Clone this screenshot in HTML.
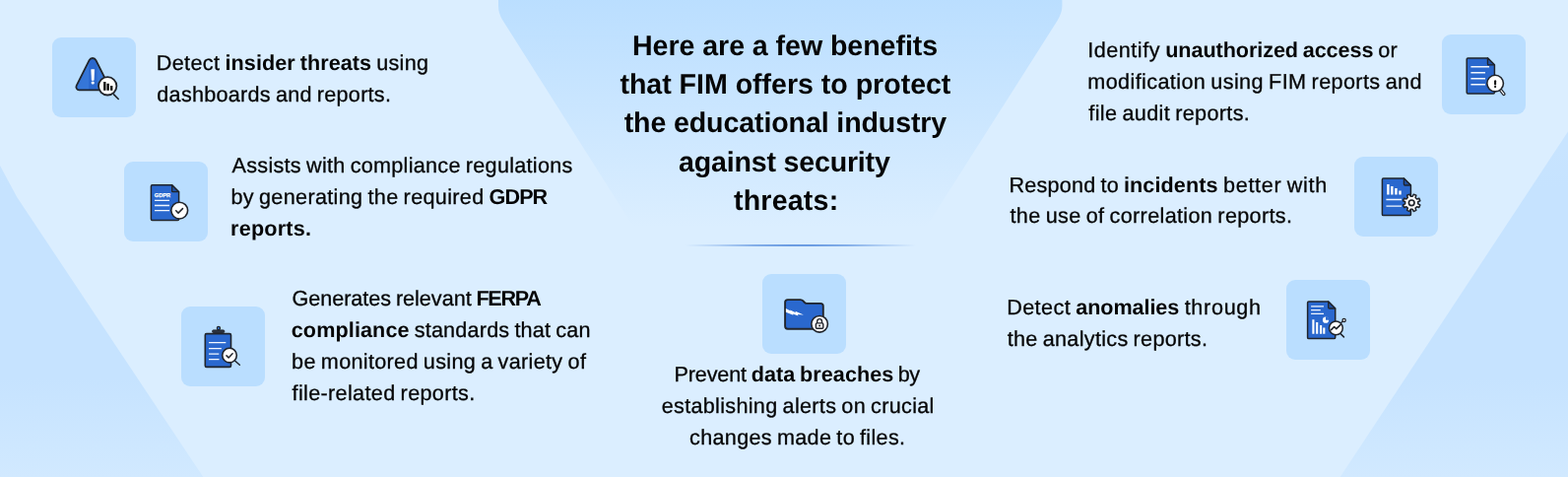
<!DOCTYPE html>
<html lang="en">
<head>
<meta charset="utf-8">
<title>FIM benefits for the educational industry</title>
<style>
*{box-sizing:border-box}
html,body{margin:0;padding:0}
body{width:1592px;height:484px;overflow:hidden;background:#dbeeff;font-family:"Liberation Sans",Arial,sans-serif;color:#050506}
.stage{position:relative;width:1592px;height:484px;overflow:hidden;background:#dbeeff}
.bg{position:absolute;left:0;top:0;width:1592px;height:484px;display:block}
.box{position:absolute;width:85px;height:81px;border-radius:9px;background:#badeff}
.ic{display:block;width:85px;height:81px}
.copy{position:absolute;left:0;top:0;width:1592px;height:484px;will-change:transform}
h2,p{margin:0;padding:0;font:inherit}
.ln{position:absolute;display:block;margin:0;white-space:nowrap;text-rendering:geometricPrecision;word-spacing:-1.2px;font-size:21.6px;line-height:24px;height:24px;font-weight:400;-webkit-text-stroke:0.3px #050506}
.ln b{font-weight:700;-webkit-text-stroke:0}
.t{word-spacing:0px;font-size:28.6px;line-height:32px;height:32px;font-weight:700;-webkit-text-stroke:0}
.rule{position:absolute;left:696px;top:248px;width:234px;height:2px;background:linear-gradient(90deg,rgba(98,150,224,0) 0%,rgba(98,150,224,.3) 14%,rgba(98,150,224,.72) 30%,rgba(98,150,224,.92) 45%,rgba(98,150,224,.92) 55%,rgba(98,150,224,.72) 70%,rgba(98,150,224,.3) 86%,rgba(98,150,224,0) 100%)}
</style>
</head>
<body>
<div class="stage">
<svg class="bg" viewBox="0 0 1592 484" width="1592" height="484" aria-hidden="true">
<defs>
<linearGradient id="fg" x1="0" y1="0" x2="0" y2="1" gradientUnits="objectBoundingBox">
<stop offset="0" stop-color="#badeff" stop-opacity="1"/>
<stop offset="0.5" stop-color="#badeff" stop-opacity="0"/>
</linearGradient>
<linearGradient id="tg" x1="0" y1="150" x2="0" y2="484" gradientUnits="userSpaceOnUse">
<stop offset="0" stop-color="#c8e4ff"/>
<stop offset="0.12" stop-color="#c6e3ff"/>
<stop offset="0.7" stop-color="#c6e3ff"/>
<stop offset="1" stop-color="#d1e9ff"/>
</linearGradient>
</defs>
<path d="M0 168 L17.2 200 L206.3 484 L0 484 Z" fill="url(#tg)"/>
<path d="M1592 133.5 L1360.7 484 L1592 484 Z" fill="url(#tg)"/>
<path d="M506 -4 L506 6 Q506 14 511 21.5 L791.5 464.5 L1073.5 21 Q1078.4 13 1078.4 6 L1078.4 -4 Z" fill="url(#fg)"/>
</svg>
<div class="box" style="left:53px;top:38px"><svg class="ic" viewBox="53 38 85 81" width="85" height="81" aria-hidden="true">
<defs><clipPath id="c1"><path d="M90.60 61.10 A3.8 3.8 0 0 1 97.40 61.10 L110.33 86.96 A3 3 0 0 1 107.65 91.30 L80.35 91.30 A3 3 0 0 1 77.67 86.96 Z"/></clipPath></defs>
<path d="M90.60 61.10 A3.8 3.8 0 0 1 97.40 61.10 L110.33 86.96 A3 3 0 0 1 107.65 91.30 L80.35 91.30 A3 3 0 0 1 77.67 86.96 Z" fill="#3576d8"/>
<rect x="90.2" y="54" width="8.2" height="40" fill="#2a68ce" clip-path="url(#c1)"/>
<path d="M90.60 61.10 A3.8 3.8 0 0 1 97.40 61.10 L110.33 86.96 A3 3 0 0 1 107.65 91.30 L80.35 91.30 A3 3 0 0 1 77.67 86.96 Z" fill="none" stroke="#20242b" stroke-width="1.8" stroke-linejoin="round"/>
<path d="M92.7 70.6 H95.7 L95.2 81.4 H93.2 Z" fill="#fff" stroke="#fff" stroke-width=".6" stroke-linejoin="round"/>
<circle cx="94.2" cy="84" r="1.6" fill="#fff"/>
<path d="M115.6 95.9 L120.2 100.5" stroke="#20242b" stroke-width="1.6" stroke-linecap="round" fill="none"/>
<circle cx="109.2" cy="87.3" r="9.2" fill="#fff" stroke="#20242b" stroke-width="1.8"/>
<path d="M106.3 83.1 V91.8 M109.6 84.8 V91.8 M113.2 87 V91.8" stroke="#000" stroke-width="2.3" fill="none"/>
</svg></div>
<div class="box" style="left:126px;top:164px"><svg class="ic" viewBox="126 164 85 81" width="85" height="81" aria-hidden="true">
<path d="M154.6 187.7 H174.6 L181.6 194.7 V222.3 Q181.6 223.5 180.4 223.5 H154.6 Q153.4 223.5 153.4 222.3 V188.9 Q153.4 187.7 154.6 187.7 Z" fill="#2a68ce" stroke="#20242b" stroke-width="1.5" stroke-linejoin="round"/>
<path d="M174.6 187.7 V193.7 Q174.6 194.7 175.6 194.7 H181.6 Z" fill="#1f4f9f" stroke="#20242b" stroke-width="1.3" stroke-linejoin="round"/>
<text x="156.8" y="200.3" font-family="Liberation Sans, sans-serif" font-weight="700" font-size="5.6" fill="#fff" stroke="#fff" stroke-width=".25" textLength="16.2" lengthAdjust="spacingAndGlyphs">GDPR</text>
<path d="M157 203.4 H172 M157 208.5 H172 M157 213.6 H172" stroke="#f2f7ff" stroke-width="1.3" fill="none"/>
<circle cx="182.2" cy="213.6" r="8.4" fill="#fff" stroke="#20242b" stroke-width="1.6"/>
<path d="M178.7 213.8 L181 216.1 L185.5 211.6" stroke="#20242b" stroke-width="1.5" fill="none" stroke-linecap="round" stroke-linejoin="round"/>
</svg></div>
<div class="box" style="left:184px;top:311px"><svg class="ic" viewBox="184 311 85 81" width="85" height="81" aria-hidden="true">
<rect x="208.3" y="338.6" width="26.2" height="33.8" rx="1.4" fill="#2a68ce" stroke="#20242b" stroke-width="1.6"/>
<circle cx="221.9" cy="333" r="1.6" fill="#3576d8" stroke="#20242b" stroke-width="1.2"/>
<rect x="215.6" y="334.9" width="12.2" height="2.6" rx="1" fill="#2b3340" stroke="#20242b" stroke-width=".9"/>
<path d="M212 347.6 H229.3 M212 353.6 H224.8 M212 359.1 H222.3 M212 364.6 H222.5" stroke="#f2f7ff" stroke-width="1.4" fill="none"/>
<path d="M238.2 365.8 L243.3 370.3" stroke="#20242b" stroke-width="1.5" stroke-linecap="round" fill="none"/>
<circle cx="233" cy="360.6" r="7.3" fill="#fff" stroke="#20242b" stroke-width="1.6"/>
<path d="M230 360.9 L232.1 363 L236.1 358.8" stroke="#20242b" stroke-width="1.5" fill="none" stroke-linecap="round" stroke-linejoin="round"/>
</svg></div>
<div class="box" style="left:774px;top:278px"><svg class="ic" viewBox="774 278 85 81" width="85" height="81" aria-hidden="true">
<path d="M799.8 304.1 H812.6 Q814.4 304.1 815.5 305.4 L816.6 306.7 Q817.6 307.9 819.2 307.9 H833 Q835.8 307.9 835.8 310.7 V331 Q835.8 333.7 833 333.7 H799.8 Q797.1 333.7 797.1 331 V306.8 Q797.1 304.1 799.8 304.1 Z" fill="#2a68ce" stroke="#20242b" stroke-width="1.9" stroke-linejoin="round"/>
<path d="M797.9 313.0 L802.7 315.4 L802.1 314.4 L808.0 317.2 L807.4 315.8 L816.0 319.6 L809.8 319.0 L810.6 320.4 L804.9 318.4 L805.5 319.8 L797.9 316.8 Z" fill="#fff"/>
<circle cx="832.1" cy="328.8" r="8.3" fill="#fff" stroke="#20242b" stroke-width="1.6"/>
<path d="M829.7 328 V326.2 Q829.7 323.6 832.1 323.6 Q834.5 323.6 834.5 326.2 V328" stroke="#20242b" stroke-width="1.4" fill="none"/>
<rect x="828.4" y="327.9" width="7.4" height="5.4" rx="1" fill="#fff" stroke="#20242b" stroke-width="1.4"/>
<circle cx="832.1" cy="330.6" r="1" fill="#20242b"/>
</svg></div>
<div class="box" style="left:1464px;top:35px"><svg class="ic" viewBox="1464 35 85 81" width="85" height="81" aria-hidden="true">
<path d="M1490.4 58.9 H1510.4 L1517.4 65.9 V93.7 Q1517.4 94.9 1516.2 94.9 H1490.4 Q1489.2 94.9 1489.2 93.7 V60.1 Q1489.2 58.9 1490.4 58.9 Z" fill="#2a68ce" stroke="#20242b" stroke-width="1.5" stroke-linejoin="round"/>
<path d="M1510.4 58.9 V64.9 Q1510.4 65.9 1511.4 65.9 H1517.4 Z" fill="#1f4f9f" stroke="#20242b" stroke-width="1.3" stroke-linejoin="round"/>
<path d="M1493.4 67.8 H1512 M1493.4 73.8 H1508 M1493.4 79.8 H1508 M1493.4 85.8 H1508" stroke="#f2f7ff" stroke-width="1.4" fill="none"/>
<path d="M1523.6 91.4 L1526.8 95.4" stroke="#20242b" stroke-width="3.4" stroke-linecap="round" fill="none"/>
<path d="M1523.6 91.4 L1526.8 95.4" stroke="#fff" stroke-width="1.1" stroke-linecap="round" fill="none"/>
<circle cx="1518.1" cy="84.6" r="8.3" fill="#fff" stroke="#20242b" stroke-width="1.6"/>
<path d="M1518.1 82.2 V85.4" stroke="#000" stroke-width="2" stroke-linecap="round" fill="none"/>
<circle cx="1518.1" cy="88" r="1.1" fill="#000"/>
</svg></div>
<div class="box" style="left:1375px;top:159px"><svg class="ic" viewBox="1375 159 85 81" width="85" height="81" aria-hidden="true">
<path d="M1404.6 181 H1425.4 L1432.4 188 V217.4 Q1432.4 218.6 1431.2 218.6 H1404.6 Q1403.4 218.6 1403.4 217.4 V182.2 Q1403.4 181 1404.6000000000001 181 Z" fill="#2a68ce" stroke="#20242b" stroke-width="1.5" stroke-linejoin="round"/>
<path d="M1425.4 181 V187 Q1425.4 188 1426.4 188 H1432.4 Z" fill="#1f4f9f" stroke="#20242b" stroke-width="1.3" stroke-linejoin="round"/>
<path d="M1409.4 187 V197.6 M1413.3 189.1 V197.6 M1417.4 191.1 V197.6 M1421.5 193.6 V197.6" stroke="#fff" stroke-width="2.4" fill="none"/>
<path d="M1407.4 202.5 H1423 M1407.4 209.1 H1423" stroke="#f2f7ff" stroke-width="1.4" fill="none"/>
<path d="M1439.72 206.83 L1441.85 207.88 L1440.79 210.45 L1438.54 209.68 L1437.08 211.14 L1437.85 213.39 L1435.28 214.45 L1434.23 212.32 L1432.17 212.32 L1431.12 214.45 L1428.55 213.39 L1429.32 211.14 L1427.86 209.68 L1425.61 210.45 L1424.55 207.88 L1426.68 206.83 L1426.68 204.77 L1424.55 203.72 L1425.61 201.15 L1427.86 201.92 L1429.32 200.46 L1428.55 198.21 L1431.12 197.15 L1432.17 199.28 L1434.23 199.28 L1435.28 197.15 L1437.85 198.21 L1437.08 200.46 L1438.54 201.92 L1440.79 201.15 L1441.85 203.72 L1439.72 204.77 Z" fill="#fff" stroke="#20242b" stroke-width="1.5" stroke-linejoin="round"/><circle cx="1433.2" cy="205.8" r="2.8" fill="#fff" stroke="#20242b" stroke-width="1.7"/>
</svg></div>
<div class="box" style="left:1306px;top:284px"><svg class="ic" viewBox="1306 284 85 81" width="85" height="81" aria-hidden="true">
<path d="M1328.8 306 H1348.7 L1355.7 313 V342.4 Q1355.7 343.6 1354.5 343.6 H1328.8 Q1327.6 343.6 1327.6 342.4 V307.2 Q1327.6 306 1328.8 306 Z" fill="#2a68ce" stroke="#20242b" stroke-width="1.5" stroke-linejoin="round"/>
<path d="M1348.7 306 V312 Q1348.7 313 1349.7 313 H1355.7 Z" fill="#1f4f9f" stroke="#20242b" stroke-width="1.3" stroke-linejoin="round"/>
<path d="M1331.1 310.9 H1344 M1331.1 314.6 H1340.8 M1331.1 318.3 H1344" stroke="#f2f7ff" stroke-width="1.3" fill="none"/>
<circle cx="1346" cy="324.7" r="3.1" fill="#fff"/>
<path d="M1346 324.7 V321.2 A3.5 3.5 0 0 1 1349.5 324.7 Z" fill="#2a68ce"/>
<path d="M1333.4 324.3 V338.8 M1337.2 326.9 V338.8 M1341.1 330 V338.8 M1344.3 332.6 V338.8" stroke="#fff" stroke-width="2.1" fill="none"/>
<path d="M1361 338.6 L1364.4 341.9" stroke="#20242b" stroke-width="1.5" stroke-linecap="round" fill="none"/>
<path d="M1361 328 L1363.4 326" stroke="#20242b" stroke-width="1.3" fill="none"/>
<circle cx="1356.4" cy="332.8" r="6.9" fill="#fff" stroke="#20242b" stroke-width="1.5"/>
<circle cx="1364.6" cy="324.9" r="1.6" fill="#fff" stroke="#20242b" stroke-width="1.3"/>
<path d="M1351.6 334.6 L1354.6 331.5 L1356.8 333.6 L1361.2 329.4" stroke="#20242b" stroke-width="1.6" fill="none" stroke-linecap="round" stroke-linejoin="round"/>
</svg></div>
<div class="rule"></div>
<div class="copy">
<h2><span class="ln t" style="left:642.00px;top:31px;letter-spacing:-0.061px">Here are a few benefits</span>
<span class="ln t" style="left:629.42px;top:70px;letter-spacing:-0.031px">that FIM offers to protect</span>
<span class="ln t" style="left:633.67px;top:109px;letter-spacing:-0.124px">the educational industry</span>
<span class="ln t" style="left:689.00px;top:149px;letter-spacing:-0.193px">against security</span>
<span class="ln t" style="left:744.99px;top:188px;letter-spacing:0.193px">threats:</span></h2>
<p><span class="ln" style="left:158.82px;top:52px"><span style="letter-spacing:0.349px">Detect </span><b style="letter-spacing:0.073px">insider threats</b><span style="letter-spacing:0.269px"> using</span></span>
<span class="ln" style="left:159.35px;top:84px;letter-spacing:0.268px">dashboards and reports.</span></p>
<p><span class="ln" style="left:235.54px;top:156px;letter-spacing:0.287px">Assists with compliance regulations</span>
<span class="ln" style="left:234.45px;top:188px"><span style="letter-spacing:0.328px">by generating the required </span><b style="letter-spacing:-0.934px">GDPR</b></span>
<span class="ln" style="left:234.08px;top:220px;letter-spacing:0.213px"><b>reports.</b></span></p>
<p><span class="ln" style="left:296.38px;top:291px"><span style="letter-spacing:-0.011px">Generates relevant </span><b style="letter-spacing:-1.285px">FERPA</b></span>
<span class="ln" style="left:295.74px;top:323px"><b style="letter-spacing:0.111px">compliance</b><span style="letter-spacing:0.209px"> standards that can</span></span>
<span class="ln" style="left:296.10px;top:355px;letter-spacing:0.317px">be monitored using a variety of</span>
<span class="ln" style="left:296.58px;top:387px;letter-spacing:0.340px">file-related reports.</span></p>
<p><span class="ln" style="left:684.46px;top:368px"><span style="letter-spacing:-0.125px">Prevent </span><b style="letter-spacing:0.047px">data breaches</b><span style="letter-spacing:-0.436px"> by</span></span>
<span class="ln" style="left:671.73px;top:400px;letter-spacing:0.310px">establishing alerts on crucial</span>
<span class="ln" style="left:700.11px;top:432px;letter-spacing:0.305px">changes made to files.</span></p>
<p><span class="ln" style="left:1104.35px;top:39px"><span style="letter-spacing:0.496px">Identify </span><b style="letter-spacing:-0.069px">unauthorized access</b><span style="letter-spacing:0.158px"> or</span></span>
<span class="ln" style="left:1104.36px;top:71px;letter-spacing:0.382px">modification using FIM reports and</span>
<span class="ln" style="left:1105.31px;top:103px;letter-spacing:0.351px">file audit reports.</span></p>
<p><span class="ln" style="left:1024.52px;top:176px"><span style="letter-spacing:0.213px">Respond to </span><b style="letter-spacing:0.102px">incidents</b><span style="letter-spacing:0.665px"> better with</span></span>
<span class="ln" style="left:1025.49px;top:207px;letter-spacing:0.348px">the use of correlation reports.</span></p>
<p><span class="ln" style="left:1022.13px;top:300px"><span style="letter-spacing:0.419px">Detect </span><b style="letter-spacing:-0.081px">anomalies</b><span style="letter-spacing:0.692px"> through</span></span>
<span class="ln" style="left:1022.68px;top:332px;letter-spacing:0.308px">the analytics reports.</span></p>
</div>
</div>
</body>
</html>
